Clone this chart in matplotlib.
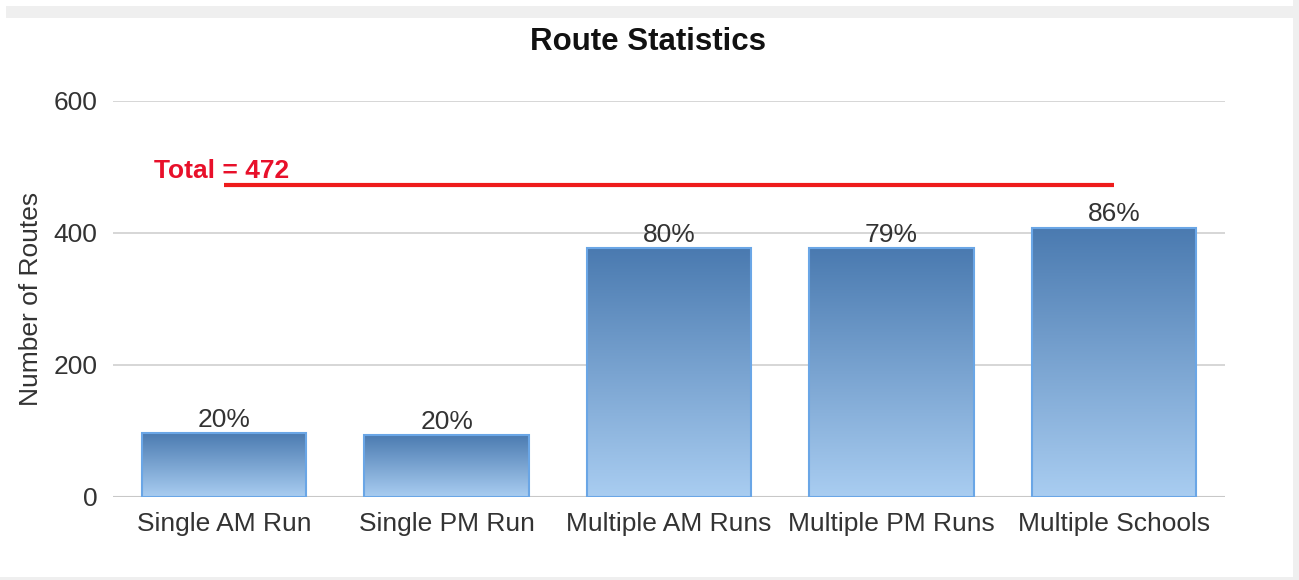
import matplotlib
matplotlib.use("Agg")
import matplotlib.pyplot as plt
import numpy as np
from matplotlib.colors import LinearSegmentedColormap
from matplotlib.patches import Rectangle

categories = ["Single AM Run", "Single PM Run", "Multiple AM Runs", "Multiple PM Runs", "Multiple Schools"]
values = [97, 94, 377, 377, 408]
pct_labels = ["20%", "20%", "80%", "79%", "86%"]
total = 472
total_label = "Total = 472"
yticks = [0, 200, 400, 600]

plt.rcParams['font.family'] = ['Liberation Sans', 'DejaVu Sans']

W, H = 1299, 580
fig = plt.figure(figsize=(W / 100, H / 100), dpi=100, facecolor="white")

# frame bands
fig.patches.append(Rectangle((6 / W, 1 - 18 / H), 1, 12 / H, transform=fig.transFigure,
                             facecolor="#efefef", edgecolor="none", zorder=0))
fig.patches.append(Rectangle((1293 / W, 0), 6 / W, 1, transform=fig.transFigure,
                             facecolor="#efefef", edgecolor="none", zorder=0))
fig.patches.append(Rectangle((0, 0), 1, 3 / H, transform=fig.transFigure,
                             facecolor="#efefef", edgecolor="none", zorder=0))

left, right, top, bottom = 113, 1225, 101, 497
ax = fig.add_axes([left / W, 1 - bottom / H, (right - left) / W, (bottom - top) / H])
ax.set_xlim(-0.5, 4.5)
ax.set_ylim(0, 600)

for s in ax.spines.values():
    s.set_visible(False)
ax.set_yticks(yticks)
ax.yaxis.grid(True, color="#d3d3d3", linewidth=1.3)
ax.set_axisbelow(True)
ax.tick_params(axis="both", length=0, labelsize=19, labelcolor="#333333")
ax.tick_params(axis="y", pad=11)
ax.tick_params(axis="x", pad=11)
ax.axhline(0, color="#c8c8c8", linewidth=1.5, zorder=1)

x = np.arange(len(categories))
ax.set_xticks(x)
ax.set_xticklabels(categories)

cmap = LinearSegmentedColormap.from_list("bar", ["#a9cdf1", "#4a7ab0"])
grad = np.linspace(0, 1, 256).reshape(-1, 1)
bars = ax.bar(x, values, width=0.74, facecolor="none", edgecolor="#6aa6e6", linewidth=1.5, zorder=3)
for b in bars:
    bx, by, bw, bh = b.get_x(), b.get_y(), b.get_width(), b.get_height()
    im = ax.imshow(grad, cmap=cmap, aspect="auto", origin="lower",
                   extent=[bx, bx + bw, by, by + bh], zorder=2)
    im.set_clip_path(b)
ax.set_xlim(-0.5, 4.5)
ax.set_ylim(0, 600)

for xi, v, lab in zip(x, values, pct_labels):
    ax.text(xi, v + 2, lab, ha="center", va="bottom", fontsize=19, color="#333333", zorder=4)

ax.plot([x[0], x[-1]], [total, total], color="#ee1c1c", linewidth=3, zorder=4, solid_capstyle="butt")
ax.text(-0.315, total + 4, total_label, ha="left", va="bottom", fontsize=19, fontweight="bold",
        color="#e8102a", zorder=4)

ax.set_ylabel("Number of Routes", fontsize=19, color="#333333", labelpad=8)
fig.text(648 / W, 1 - 42 / H, "Route Statistics", ha="center", va="center",
         fontsize=22.5, fontweight="bold", color="#111111")

fig.savefig("out.png", dpi=100, facecolor=fig.get_facecolor())
